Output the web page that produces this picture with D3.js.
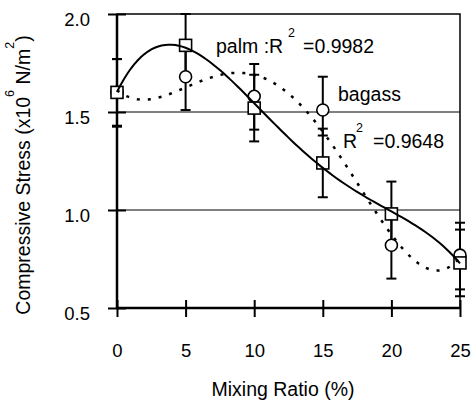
<!DOCTYPE html>
<html><head><meta charset="utf-8">
<script src="https://cdn.jsdelivr.net/npm/d3@7"></script>
<style>body{margin:0;background:#fff}text{font-family:"Liberation Sans",Arial,sans-serif;fill:#000}</style>
</head><body><svg id="c" width="471" height="404"></svg>
<script>
const ratios = [0, 5, 10, 15, 20, 25];
const palm = [1.60, 1.84, 1.52, 1.24, 0.98, 0.73];
const palmUp = [0.17, 0.16, 0.17, 0.175, 0.165, 0.17];
const palmDown = [0.175, 0.16, 0.17, 0.175, 0.165, 0.17];
const bagass = [1.60, 1.68, 1.58, 1.51, 0.82, 0.77];
const bagassUp = [0.17, 0.17, 0.165, 0.17, 0.17, 0.165];
const bagassDown = [0.17, 0.17, 0.17, 0.13, 0.17, 0.175];
const xTicks = [0, 5, 10, 15, 20, 25];
const yTicks = [0.5, 1.0, 1.5, 2.0];
const gridValues = [1.0, 1.5];

const svg = d3.select("#c");
const x = d3.scaleLinear().domain([0, 25]).range([117, 460]);
const y = d3.scaleLinear().domain([0.5, 2.0]).range([308, 14]);

// polynomial least squares fit (order 4), as a spreadsheet trendline
function polyfit(xs, ys, order) {
  const n = order + 1, s = 25;
  const A = Array.from({length: n}, () => new Array(n + 1).fill(0));
  xs.forEach((xv, k) => {
    const t = xv / s;
    for (let i = 0; i < n; i++) {
      for (let j = 0; j < n; j++) A[i][j] += Math.pow(t, i + j);
      A[i][n] += ys[k] * Math.pow(t, i);
    }
  });
  for (let i = 0; i < n; i++) {
    let p = i;
    for (let r = i + 1; r < n; r++) if (Math.abs(A[r][i]) > Math.abs(A[p][i])) p = r;
    [A[i], A[p]] = [A[p], A[i]];
    for (let r = 0; r < n; r++) if (r !== i) {
      const f = A[r][i] / A[i][i];
      for (let c = i; c <= n; c++) A[r][c] -= f * A[i][c];
    }
  }
  const coef = A.map((row, i) => row[n] / row[i]);
  return xv => coef.reduce((acc, c, i) => acc + c * Math.pow(xv / s, i), 0);
}

// gridlines
svg.append("g").selectAll("line").data(gridValues).join("line")
  .attr("x1", x(0)).attr("x2", x(25)).attr("y1", d => y(d)).attr("y2", d => y(d))
  .attr("stroke", "#000").attr("stroke-width", 1);

// axes
const yAxis = svg.append("g").attr("transform", `translate(${x(0)},0)`)
  .call(d3.axisLeft(y).tickValues(yTicks).tickFormat(d3.format(".1f")).tickSize(9).tickPadding(18));
yAxis.select(".domain").remove();
yAxis.selectAll(".tick line").attr("x1", 9).attr("x2", -9).attr("stroke-width", 2);
yAxis.selectAll(".tick text").attr("dy", "0.62em").style("font-size", "18.5px").attr("font-family", null);

const xAxis = svg.append("g").attr("transform", `translate(0,${y(0.5)})`)
  .call(d3.axisBottom(x).tickValues(xTicks).tickFormat(d3.format("d")).tickSize(9).tickPadding(27));
xAxis.select(".domain").remove();
xAxis.selectAll(".tick line").attr("y1", -8).attr("y2", 9).attr("stroke-width", 2);
xAxis.selectAll(".tick text").style("font-size", "18.5px").attr("font-family", null);

// frame
svg.append("rect").attr("x", x(0)).attr("y", y(2.0)).attr("width", x(25) - x(0)).attr("height", y(0.5) - y(2.0))
  .attr("fill", "none").attr("stroke", "#000").attr("stroke-width", 1.5);
svg.append("line").attr("x1", x(0)).attr("x2", x(0)).attr("y1", y(2.0)).attr("y2", y(0.5) + 1).attr("stroke", "#000").attr("stroke-width", 2.5);
svg.append("line").attr("x1", x(0) - 1).attr("x2", x(25)).attr("y1", y(0.5)).attr("y2", y(0.5)).attr("stroke", "#000").attr("stroke-width", 2.5);

// error bars
function errorBars(vals, up, down) {
  const g = svg.append("g").attr("stroke", "#000").attr("stroke-width", 2);
  ratios.forEach((r, i) => {
    const top = y(vals[i] + up[i]), bot = y(vals[i] - down[i]), cx = x(r);
    g.append("line").attr("x1", cx).attr("x2", cx).attr("y1", top).attr("y2", bot);
    g.append("line").attr("x1", cx - 5).attr("x2", cx + 5).attr("y1", top).attr("y2", top);
    g.append("line").attr("x1", cx - 5).attr("x2", cx + 5).attr("y1", bot).attr("y2", bot);
  });
}
errorBars(bagass, bagassUp, bagassDown);
errorBars(palm, palmUp, palmDown);

// markers
svg.append("g").selectAll("circle").data(ratios).join("circle")
  .attr("cx", d => x(d)).attr("cy", (d, i) => y(bagass[i])).attr("r", 6)
  .attr("fill", "#fff").attr("stroke", "#000").attr("stroke-width", 1.6);
svg.append("g").selectAll("rect").data(ratios).join("rect")
  .attr("x", d => x(d) - 6).attr("y", (d, i) => y(palm[i]) - 6).attr("width", 12).attr("height", 12)
  .attr("fill", "#fff").attr("stroke", "#000").attr("stroke-width", 1.6);

// trendlines
const samples = d3.range(0, 25.001, 0.25);
const palmFit = polyfit(ratios, palm, 4);
const bagassFit = polyfit(ratios, bagass, 4);
const line = f => d3.line().x(d => x(d)).y(d => y(f(d)))(samples);
svg.append("path").attr("d", line(palmFit)).attr("fill", "none").attr("stroke", "#000").attr("stroke-width", 2);
svg.append("path").attr("d", line(bagassFit)).attr("fill", "none").attr("stroke", "#000").attr("stroke-width", 2.5).attr("stroke-dasharray", "3,8");

// annotations
const fs = "19.5px", sfs = "12.5px";
const t1 = svg.append("text").attr("y", 53).style("font-size", fs);
t1.append("tspan").attr("x", 216).text("palm :R");
t1.append("tspan").attr("x", 288).attr("y", 37).style("font-size", sfs).text("2");
t1.append("tspan").attr("x", 303).attr("y", 53).text("=0.9982");

svg.append("text").attr("x", 338).attr("y", 101).style("font-size", fs).text("bagass");

const t2 = svg.append("text").attr("y", 148).style("font-size", fs);
t2.append("tspan").attr("x", 343).text("R");
t2.append("tspan").attr("x", 356).attr("y", 132).style("font-size", sfs).text("2");
t2.append("tspan").attr("x", 373).attr("y", 148).text("=0.9648");

// axis titles
svg.append("text").attr("x", 283).attr("y", 396).attr("text-anchor", "middle").style("font-size", fs).text("Mixing Ratio (%)");
const yt = svg.append("text").attr("transform", "translate(30,175) rotate(-90)").attr("text-anchor", "middle").style("font-size", fs);
yt.append("tspan").text("Compressive Stress (x10");
yt.append("tspan").attr("dy", -16).style("font-size", sfs).text("6");
yt.append("tspan").attr("dy", 16).text(" N/m");
yt.append("tspan").attr("dy", -16).style("font-size", sfs).text("2");
yt.append("tspan").attr("dy", 16).text(")");
</script></body></html>
